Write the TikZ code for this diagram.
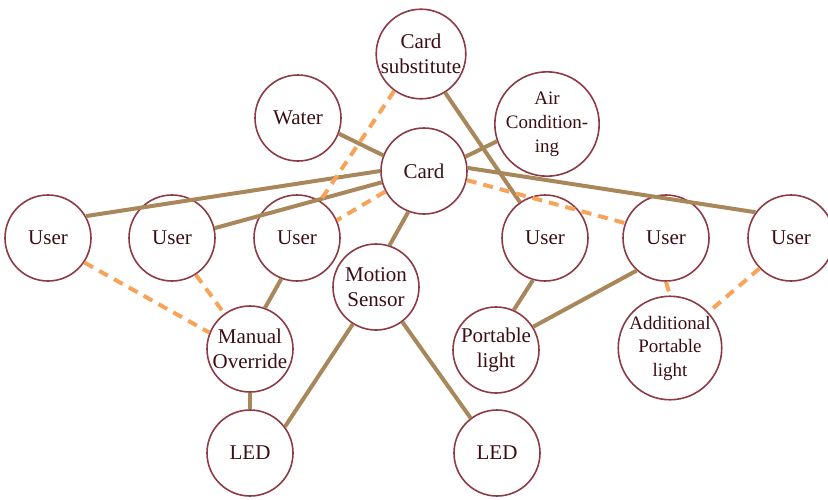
\documentclass[tikz,border=0pt]{standalone}
\usepackage{fontspec}
\setmainfont{Liberation Serif}
\definecolor{ring}{HTML}{8C3A44}
\definecolor{txt}{HTML}{3A0E12}
\definecolor{solidc}{HTML}{A8875A}
\definecolor{dashc}{HTML}{F8A35A}
\begin{document}
\begin{tikzpicture}[x=1pt,y=-1pt,
  ent/.style={circle,draw=ring,line width=1.6pt,minimum size=86pt,inner sep=0pt,align=center,text=txt,font=\fontsize{21}{25}\selectfont},
  small/.style={font=\fontsize{19}{24}\selectfont},
  link/.style={draw=solidc,line width=4pt},
  dlink/.style={draw=dashc,line width=4pt,dash pattern=on 10pt off 7pt}]
\useasboundingbox (0,0) rectangle (828,499);
% nodes
\node[ent] (cs) at (421,54) {Card\\substitute};
\node[ent] (water) at (298,118) {Water};
\node[ent,small] (ac) at (547,124) {Air\\Condition-\\ing};
\node[ent] (card) at (424,171) {Card};
\node[ent] (u1) at (48,238) {User};
\node[ent] (u2) at (172,238) {User};
\node[ent] (u3) at (297,238) {User};
\node[ent] (u4) at (545,238) {User};
\node[ent] (u5) at (666,238) {User};
\node[ent] (u6) at (791,238) {User};
\node[ent] (ms) at (376,287) {Motion\\Sensor};
\node[ent] (mo) at (250,349) {Manual\\Override};
\node[ent] (pl) at (496,350) {Portable\\light};
\node[ent,font=\fontsize{19}{23.5}\selectfont] (apl) at (670,348) {Additional\\Portable\\light};
\node[ent] (led1) at (250,453) {LED};
\node[ent] (led2) at (497,453) {LED};
% solid links
\draw[link] (card.159) -- (water.339);
\draw[link] (card.19) -- (ac.199);
\draw[link] (card.180) -- (u1.30);
\draw[link] (card.195) -- (u2.13);
\draw[link] (card.4) -- (u6.144);
\draw[link] (card.249) -- (ms.72);
\draw[link] (cs.302) -- (u4.125);
\draw[link] (u3.249) -- (mo.70);
\draw[link] (mo.south) -- (led1.north);
\draw[link] (ms.238) -- (led1.37);
\draw[link] (ms.307) -- (led2.127);
\draw[link] (u4.254) -- (pl.66);
\draw[link] (u5.228) -- (pl.32);
% dashed links
\draw[dlink] (cs.234) -- (u3.58);
\draw[dlink] (card.208) -- (u3.24);
\draw[dlink] (card.348) -- (u5.160);
\draw[dlink] (u1.326) -- (mo.158);
\draw[dlink] (u2.303) -- (mo.126);
\draw[dlink] (u5.south) -- (apl.north);
\draw[dlink] (u6.224) -- (apl.43);
\end{tikzpicture}
\end{document}
